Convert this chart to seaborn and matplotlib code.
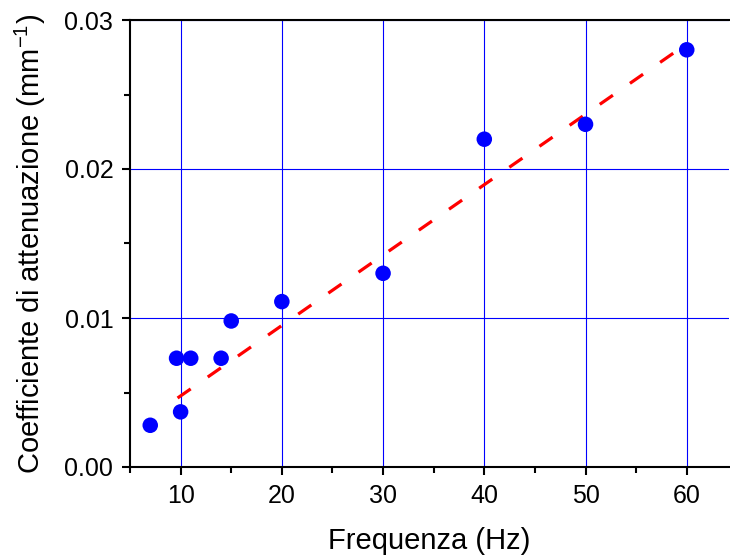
import numpy as np
import pandas as pd
import matplotlib
matplotlib.use('Agg')
import matplotlib.pyplot as plt
import seaborn as sns
from matplotlib.ticker import MultipleLocator, FormatStrFormatter

# measured points
freq_hz = [7, 9.6, 10, 11, 14, 15, 20, 30, 40, 50, 60]
atten = [0.0028, 0.0073, 0.0037, 0.0073, 0.0073, 0.0098, 0.0111, 0.0130, 0.0220, 0.0230, 0.0280]

# linear fit line (endpoints)
fit_x = [9.7, 60]
fit_y = [0.00463, 0.0284]

sns.set_style('ticks')
plt.rcParams['font.family'] = ['Liberation Sans', 'DejaVu Sans']
plt.rcParams['mathtext.fontset'] = 'custom'
plt.rcParams['mathtext.rm'] = 'Liberation Sans'
plt.rcParams['text.color'] = 'black'
plt.rcParams['axes.labelcolor'] = 'black'
plt.rcParams['xtick.color'] = 'black'
plt.rcParams['ytick.color'] = 'black'

df = pd.DataFrame({'freq': freq_hz, 'coef': atten})
fit = pd.DataFrame({'x': fit_x, 'y': fit_y})

fig = plt.figure(figsize=(7.3, 5.56), dpi=100)
ax = fig.add_axes([130 / 730, 1 - 467 / 556, 1 - 130 / 730 - 0.001, (467 - 20) / 556])

ax.grid(True, which='major', color='#0000ff', linewidth=0.8)
ax.set_axisbelow(True)

sns.lineplot(data=fit, x='x', y='y', ax=ax, color='#ff0000', linewidth=2.3,
             linestyle=(0, (5.0, 6.5)), zorder=3)
sns.scatterplot(data=df, x='freq', y='coef', ax=ax, color='#0000ff', s=125,
                edgecolor='none', zorder=4)

ax.set_xlim(5, 64.2)
ax.set_ylim(0, 0.03)
ax.xaxis.set_major_locator(MultipleLocator(10))
ax.xaxis.set_minor_locator(MultipleLocator(5))
ax.yaxis.set_major_locator(MultipleLocator(0.01))
ax.yaxis.set_minor_locator(MultipleLocator(0.005))
ax.yaxis.set_major_formatter(FormatStrFormatter('%.2f'))

for side in ['left', 'bottom', 'top']:
    ax.spines[side].set_linewidth(1.5)
    ax.spines[side].set_color('black')
ax.spines['right'].set_visible(False)

ax.tick_params(which='major', direction='out', length=6, width=1.5, labelsize=18,
               top=False, right=False, pad=6, colors='black')
ax.tick_params(which='minor', direction='out', length=4, width=1.5,
               top=False, right=False, colors='black')

ax.set_xlabel('Frequenza (Hz)', fontsize=21, labelpad=14, color='black')
ax.set_ylabel(r'Coefficiente di attenuazione (mm$^{\mathregular{-1}}$)', fontsize=21,
              labelpad=12, color='black')

fig.savefig('out.png', dpi=100)
